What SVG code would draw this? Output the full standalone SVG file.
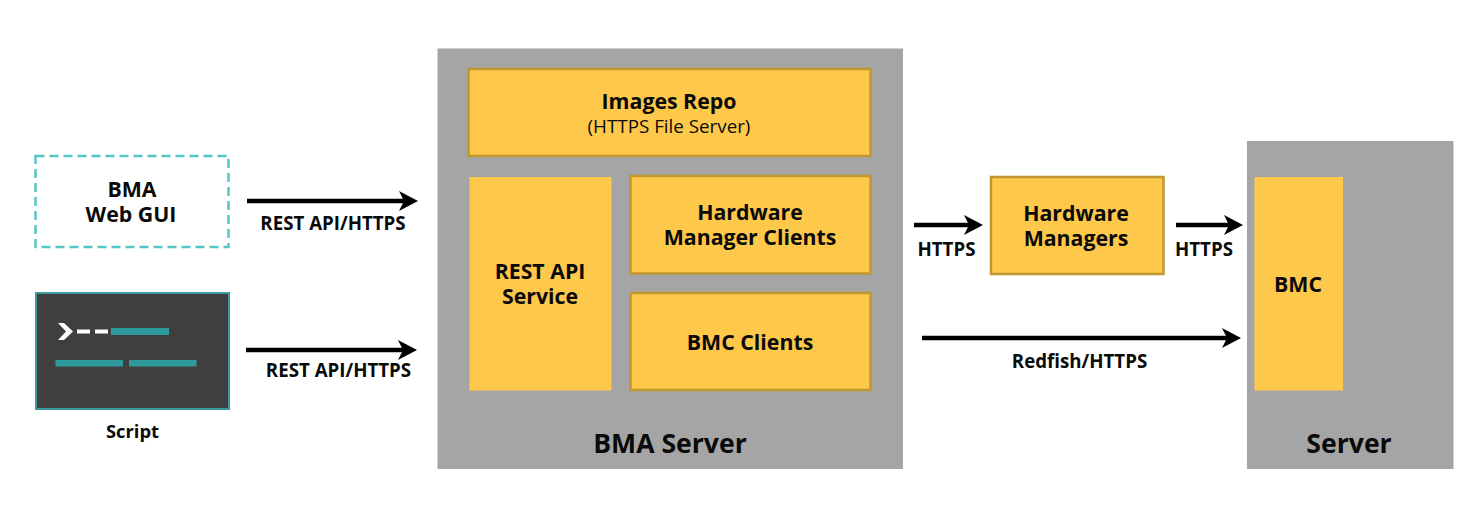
<svg xmlns="http://www.w3.org/2000/svg" width="1483" height="531" viewBox="0 0 1483 531">
<style>
text{font-family:"Open Sans","Noto Sans","Liberation Sans",sans-serif;font-weight:700;fill:#0a0a0a;text-anchor:middle}
.t22{font-size:21.3px}.t18{font-size:18.7px}.t28{font-size:26.6px}
.thin{font-weight:400;font-size:18.8px}
.grey{fill:#a5a5a5}
.box{fill:#fec84a;stroke:#c1982f;stroke-width:2.5}
.plain{fill:#fec84a}
.conn{stroke:#000;stroke-width:4.5;fill:none}
.teal{fill:#2f9a9c}
</style>
<defs><marker id="arrow" markerUnits="userSpaceOnUse" markerWidth="22" markerHeight="22" refX="8" refY="10" orient="auto"><path d="M0 0L19 10L0 20L5 10Z" fill="#000"/></marker></defs>
<g id="bma-web-gui">
<rect x="35.500" y="156" width="193" height="91" fill="#fff" stroke="#55c5c5" stroke-width="2.500" stroke-dasharray="9 5"/>
<text class="t22"><tspan x="132" y="197">BMA</tspan><tspan x="131" y="222">Web GUI</tspan></text></g>
<g id="script">
<rect x="36" y="293" width="193" height="116" fill="#3f3f3f" stroke="#3a9a9c" stroke-width="2"/>
<path d="M58 323H64L73 331.500L64 340H58L66 331.500Z" fill="#fff"/>
<rect x="77" y="329.500" width="13" height="4" fill="#fff"/><rect x="95" y="329.500" width="13" height="4" fill="#fff"/>
<rect class="teal" x="111" y="328" width="58" height="7"/><rect class="teal" x="55.500" y="360" width="67.500" height="6.500"/><rect class="teal" x="129" y="360" width="67.500" height="6.500"/>
<text class="t18" style="font-size:18.4px" x="132.500" y="437.500">Script</text></g>
<g id="bma-server"><rect class="grey" x="437.500" y="48.500" width="465.500" height="420.500"/><text class="t28" x="670" y="453">BMA Server</text></g>
<g id="images-repo"><rect class="box" x="468.500" y="69" width="402" height="87"/><text class="t22" x="669" y="109">Images Repo</text><text class="thin" x="669" y="133">(HTTPS File Server)</text></g>
<g id="rest-api-service"><rect class="plain" x="469.500" y="177" width="142" height="213.500"/><text class="t22"><tspan x="540" y="279">REST API</tspan><tspan x="540" y="304">Service</tspan></text></g>
<g id="hardware-manager-clients"><rect class="box" x="630.500" y="176" width="240" height="97.500"/><text class="t22"><tspan x="750" y="220">Hardware</tspan><tspan x="750" y="245">Manager Clients</tspan></text></g>
<g id="bmc-clients"><rect class="box" x="630.500" y="293" width="240" height="97"/><text class="t22" x="750" y="350">BMC Clients</text></g>
<g id="hardware-managers"><rect class="box" x="991" y="177" width="172.500" height="97"/><text class="t22"><tspan x="1076" y="221">Hardware</tspan><tspan x="1076" y="246">Managers</tspan></text></g>
<g id="server"><rect class="grey" x="1247" y="141" width="206.500" height="328"/><text class="t28" x="1349" y="453">Server</text></g>
<g id="bmc"><rect class="plain" x="1254.500" y="177" width="88.500" height="213.500"/><text class="t22" x="1298" y="292">BMC</text></g>
<g id="connectors">
<line class="conn" x1="247" y1="201" x2="407" y2="201" marker-end="url(#arrow)"/>
<line class="conn" x1="246" y1="350" x2="406" y2="350" marker-end="url(#arrow)"/>
<line class="conn" x1="914" y1="225" x2="972" y2="225" marker-end="url(#arrow)"/>
<line class="conn" x1="1176" y1="225" x2="1232" y2="225" marker-end="url(#arrow)"/>
<line class="conn" x1="922" y1="338" x2="1230" y2="338" marker-end="url(#arrow)"/>
</g>
<g id="connector-labels">
<text class="t18" x="333" y="229.500">REST API/HTTPS</text>
<text class="t18" x="338.500" y="376.500">REST API/HTTPS</text>
<text class="t18" x="946.500" y="255.500">HTTPS</text>
<text class="t18" x="1204" y="255.500">HTTPS</text>
<text class="t18" x="1079.500" y="367.500">Redfish/HTTPS</text>
</g>
</svg>
